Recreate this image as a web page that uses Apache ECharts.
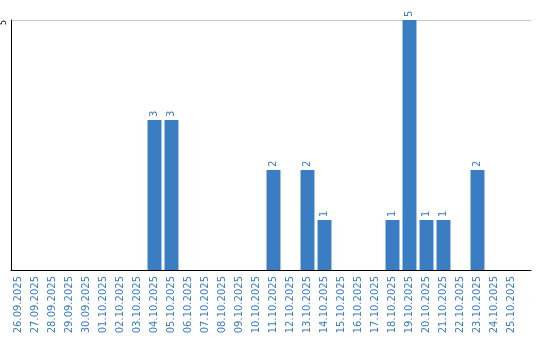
<!DOCTYPE html>
<html><head><meta charset="utf-8">
<script src="https://cdn.jsdelivr.net/npm/echarts@6/dist/echarts.min.js"></script>
<style>html,body{margin:0;padding:0;background:#fff}#c{width:540px;height:340px}</style>
</head><body><div id="c"></div>
<script>
const categories = ['26.09.2025','27.09.2025','28.09.2025','29.09.2025','30.09.2025','01.10.2025','02.10.2025','03.10.2025','04.10.2025','05.10.2025','06.10.2025','07.10.2025','08.10.2025','09.10.2025','10.10.2025','11.10.2025','12.10.2025','13.10.2025','14.10.2025','15.10.2025','16.10.2025','17.10.2025','18.10.2025','19.10.2025','20.10.2025','21.10.2025','22.10.2025','23.10.2025','24.10.2025','25.10.2025'];
const values = [0,0,0,0,0,0,0,0,3,3,0,0,0,0,0,2,0,2,1,0,0,0,1,5,1,1,0,2,0,0];
const yMax = 5;
const yTicks = [5];

const blue = '#3a7dc2';
const chart = echarts.init(document.getElementById('c'));
chart.setOption({
  animation: false,
  grid: [
    {left: 10, top: 20, width: 521, height: 250},
    {left: 10, top: 20, width: 510, height: 250}
  ],
  xAxis: [
    {gridIndex: 0, type: 'value', min: 0, max: 1, axisLine: {show: true, lineStyle: {color: '#000', width: 1}}, axisTick: {show: false}, axisLabel: {show: false}, splitLine: {show: false}},
    {gridIndex: 1, type: 'category', data: categories, axisLine: {show: false}, axisTick: {show: false},
     axisLabel: {interval: 0, rotate: 90, color: blue, fontFamily: 'DejaVu Sans', fontSize: 10, margin: 6}}
  ],
  yAxis: [
    {gridIndex: 0, type: 'value', min: 0, max: yMax, interval: 5,
     axisLine: {show: true, lineStyle: {color: '#000', width: 1}}, axisTick: {show: false},
     splitLine: {show: true, lineStyle: {color: '#c8c8c8', width: 1}},
     axisLabel: {rotate: 90, fontSize: 8, color: '#000', fontFamily: 'DejaVu Sans', margin: 3,
       align: 'right', verticalAlign: 'bottom', alignMaxLabel: 'right',
       formatter: v => yTicks.includes(v) ? String(v) : ''}},
    {gridIndex: 1, type: 'value', min: 0, max: yMax, show: false}
  ],
  series: [{
    type: 'bar', xAxisIndex: 1, yAxisIndex: 1, data: values,
    barCategoryGap: '18%',
    itemStyle: {color: blue},
    label: {show: true, position: 'top', rotate: 90, align: 'left', verticalAlign: 'middle', distance: 3,
      color: blue, fontSize: 10, fontFamily: 'DejaVu Sans',
      formatter: p => p.value ? String(p.value) : ''}
  }]
});
</script></body></html>
